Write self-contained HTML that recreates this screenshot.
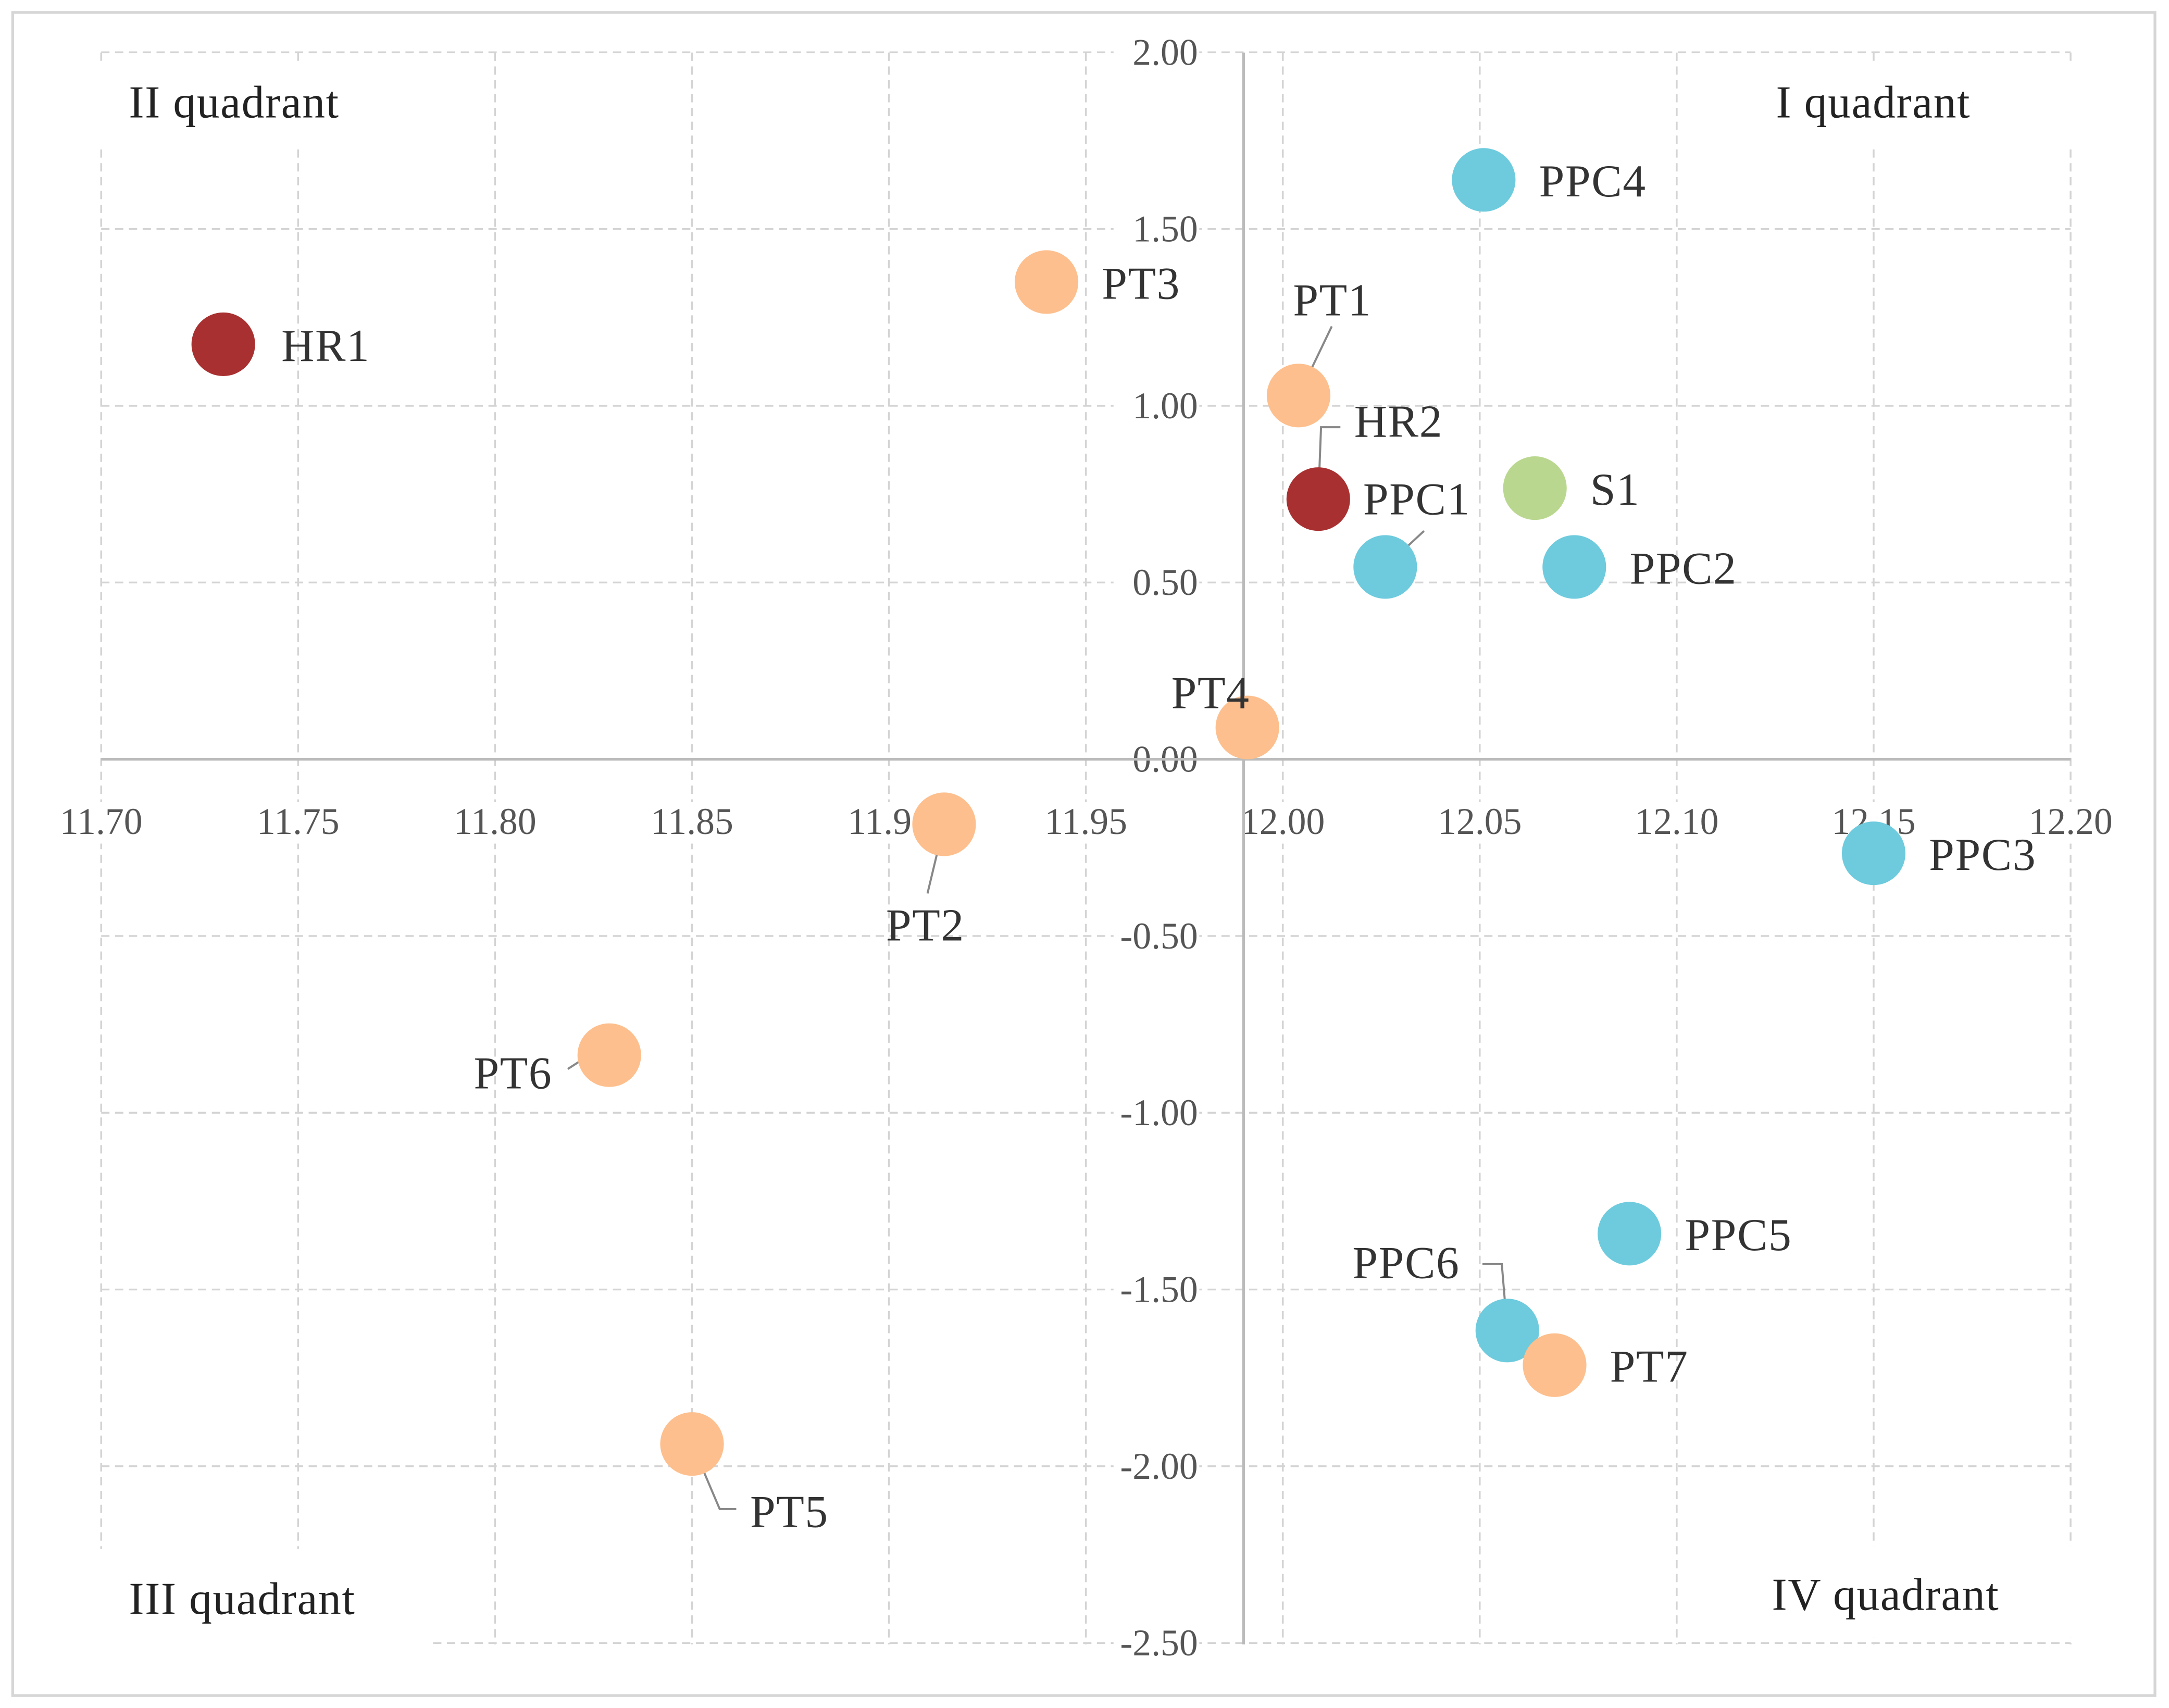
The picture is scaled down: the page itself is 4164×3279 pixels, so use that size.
<!DOCTYPE html>
<html><head><meta charset="utf-8"><style>
html,body{margin:0;padding:0;background:#fff}
svg{display:block}
text{font-family:"Liberation Serif",serif}
</style></head><body>
<svg id="chart" width="4164" height="3279" viewBox="0 0 1568 1235" xmlns="http://www.w3.org/2000/svg">
<rect x="9" y="9" width="1549" height="1217" fill="#fff" stroke="#d6d6d6" stroke-width="2"/>
<g id="grid"></g>
<g fill="#fff">
<rect x="70" y="44" width="240" height="64"/>
<rect x="1262" y="44" width="240" height="64"/>
<rect x="70" y="1120" width="240" height="75"/>
<rect x="1262" y="1118" width="240" height="66"/>
</g>
<g id="axes"></g><g id="leaders"></g><g id="points"></g><g id="labels"></g>
<g font-size="33" fill="#222" letter-spacing="0.6">
<text x="93" y="85">II quadrant</text>
<text x="1284" y="85">I quadrant</text>
<text x="93" y="1167">III quadrant</text>
<text x="1281" y="1164">IV quadrant</text>
</g>
</svg>
<script>
const names=["HR1","PT3","PT1","HR2","S1","PPC1","PPC2","PPC4","PT4","PT2","PPC3","PT6","PPC5","PPC6","PT7","PT5"];
const xVals=[11.731,11.940,12.004,12.009,12.064,12.026,12.074,12.051,11.991,11.914,12.150,11.829,12.088,12.057,12.069,11.850];
const yVals=[1.174,1.350,1.029,0.736,0.767,0.544,0.544,1.639,0.090,-0.184,-0.266,-0.837,-1.342,-1.616,-1.714,-1.937];
const groups=["HR","PT","PT","HR","S","PPC","PPC","PPC","PT","PT","PPC","PT","PPC","PPC","PT","PT"];
const xTicks=[11.70,11.75,11.80,11.85,11.90,11.95,12.00,12.05,12.10,12.15,12.20];
const yTicks=[2.00,1.50,1.00,0.50,0.00,-0.50,-1.00,-1.50,-2.00,-2.50];
const colors={HR:"#a93030",PT:"#fdbf8d",S:"#bad78f",PPC:"#6dcbdd"};
// label layout: [dx,dy,leader end relative (lx,ly) with optional elbow]
const lab={HR1:[42,12],PT3:[40,12],PT1:[-4,-58,[[24,-50]]],HR2:[26,-45,[[2,-52],[16,-52]]],S1:[40,12],
PPC1:[-16,-38,[[28,-26]]],PPC2:[40,12],PPC4:[40,12],PT4:[-55,-14],PT2:[-42,84,[[-12,50]]],
PPC3:[40,12],PT6:[-98,24,[[-16,1],[-30,10]]],PPC5:[40,12],PPC6:[-112,-38,[[-4,-48],[-18,-48]]],PT7:[40,12],PT5:[42,60,[[20,47],[32,47]]]};
const X=v=>73+(v-11.70)*2848, Y=v=>549-v*255.6;
const ns="http://www.w3.org/2000/svg";
function mk(t,a,p){const e=document.createElementNS(ns,t);for(const k in a)e.setAttribute(k,a[k]);p.appendChild(e);return e;}
const grid=document.getElementById('grid'),axes=document.getElementById('axes');
xTicks.forEach(t=>{const l=mk('line',{x1:X(t),x2:X(t),y1:38,y2:1189,stroke:"#d4d4d4","stroke-dasharray":"6,4","stroke-width":1.3},grid);

const r=mk('rect',{x:X(t)-36,y:580,width:72,height:30,fill:"#fff"},axes);

const tx=mk('text',{x:X(t),y:603,"text-anchor":"middle","font-size":27,fill:"#555"},axes);tx.textContent=t.toFixed(2);
});
yTicks.forEach(t=>{const l=mk('line',{x1:73,x2:1497,y1:Y(t),y2:Y(t),stroke:"#d4d4d4","stroke-dasharray":"6,4","stroke-width":1.3},grid);

if(t===0)return;
const r=mk('rect',{x:805,y:Y(t)-15,width:62,height:28,fill:"#fff"},axes);

const tx=mk('text',{x:866,y:Y(t)+9,"text-anchor":"end","font-size":27,fill:"#555"},axes);tx.textContent=t.toFixed(2);
});
{const tx=mk('text',{x:866,y:Y(0)+9,"text-anchor":"end","font-size":27,fill:"#555"},axes);tx.textContent="0.00";
}
const xa=mk('line',{x1:73,x2:1497,y1:Y(0),y2:Y(0),stroke:"#bbb","stroke-width":2},axes);

const ya=mk('line',{x1:899,x2:899,y1:38,y2:1189,stroke:"#bbb","stroke-width":2},axes);

const P=document.getElementById('points'),L=document.getElementById('labels'),LD=document.getElementById('leaders');
names.forEach((n,i)=>{const cx=X(xVals[i]),cy=Y(yVals[i]);
const c=mk('circle',{cx:cx,cy:cy,r:23,fill:colors[groups[i]]},P);

const o=lab[n];const tx=mk('text',{x:cx+o[0],y:cy+o[1],"font-size":33,fill:"#333","letter-spacing":"0.6"},L);tx.textContent=n;

if(o[2]){const pts=[cx+','+cy].concat(o[2].map(p=>(cx+p[0])+','+(cy+p[1]))).join(' ');
const ln=mk('polyline',{points:pts,fill:"none",stroke:"#888","stroke-width":1.5},LD);
}});
</script>
</body></html>
